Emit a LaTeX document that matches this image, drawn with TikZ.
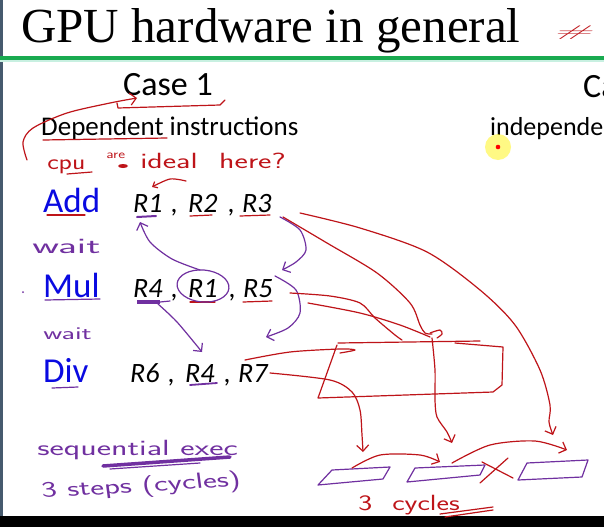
\documentclass[tikz,border=0pt]{standalone}
\usepackage{fontspec}
\setmainfont{Carlito}
\newfontfamily\titlefont{Liberation Serif}
\newcommand\handfont{\sffamily}
\usetikzlibrary{arrows.meta}

\definecolor{penred}{RGB}{190,20,25}
\definecolor{penpurple}{RGB}{112,48,160}
\definecolor{instrblue}{RGB}{10,10,225}
\definecolor{rulegreen}{RGB}{25,170,80}
\definecolor{rulemint}{RGB}{200,240,225}
\definecolor{frameslate}{RGB}{70,90,110}

\tikzset{
  redpen/.style={draw=penred, line width=1.2pt, line cap=round, line join=round},
  purplepen/.style={draw=penpurple, line width=1.2pt, line cap=round, line join=round},
  pentip/.style={-{Straight Barb[length=6pt,width=12pt]}},
  instr/.style={anchor=base west, inner sep=0pt, text=instrblue, font=\fontsize{35}{35}\selectfont},
  reg/.style={anchor=base west, inner sep=0pt, font=\fontsize{28}{28}\selectfont\itshape},
  heading/.style={anchor=base west, inner sep=0pt, font=\fontsize{34}{34}\selectfont},
  subheading/.style={anchor=base west, inner sep=0pt, font=\fontsize{27}{27}\selectfont},
  rednote/.style={anchor=base west, inner sep=0pt, text=penred, font=\handfont\fontsize{22}{22}\selectfont},
  purplenote/.style={anchor=base west, inner sep=0pt, text=penpurple, font=\handfont\fontsize{22}{22}\selectfont},
}

\begin{document}
\begin{tikzpicture}[x=1pt,y=-1pt]
\useasboundingbox (0,0) rectangle (604,527);
\fill[white] (0,0) rectangle (604,527);

% slide frame
\fill[frameslate] (0,0) rectangle (2.5,516);
\fill[black] (0,516) rectangle (604,527);
\fill[rulegreen] (0,56) rectangle (604,60);
\fill[rulemint] (0,60) rectangle (604,62);

% title
\node[anchor=base west, inner sep=0pt, font=\titlefont\fontsize{49}{49}\selectfont] (title) at (21,42) {GPU hardware in general};
\node[anchor=base west, inner sep=0pt, text=penred, font=\handfont\itshape\fontsize{18}{18}\selectfont, xscale=2.7, yscale=0.85] (hash) at (553,37) {\#};

% headings
\node[heading] (case1) at (123,95) {Case 1};
\node[subheading] (dep) at (41,135) {Dependent instructions};
\node[heading] (case2) at (583,97) {Ca};
\node[subheading, font=\fontsize{26}{26}\selectfont] (indep) at (490,135) {independe};

% pointer highlight
\fill[yellow!80, opacity=0.6] (498,147) circle (13pt);
\fill[red] (498,147) circle (2.3pt);

% instructions
\node[instr] (add) at (43,212) {Add};
\node[instr] (mul) at (43,297) {Mul};
\node[instr] (div) at (43,382) {Div};

\node[reg] (a1) at (133,212) {R1};
\node[reg] (ac1) at (171,212) {,};
\node[reg] (a2) at (188,212) {R2};
\node[reg] (ac2) at (228,212) {,};
\node[reg] (a3) at (242,212) {R3};

\node[reg] (m1) at (133,297) {R4};
\node[reg] (mc1) at (171,297) {,};
\node[reg] (m2) at (188,297) {R1};
\node[reg] (mc2) at (229,297) {,};
\node[reg] (m3) at (243,297) {R5};

\node[reg] (d1) at (130,382) {R6};
\node[reg] (dc1) at (168,382) {,};
\node[reg] (d2) at (185,382) {R4};
\node[reg] (dc2) at (224,382) {,};
\node[reg] (d3) at (238,382) {R7};

% handwritten notes
\node[rednote, xscale=1.25] (cpu) at (47,169) {cpu};
\node[rednote, font=\handfont\fontsize{12}{12}\selectfont, xscale=1.3] (are) at (106,158) {are};
\node[rednote, xscale=1.45] (ideal) at (140,168) {ideal \hspace{8pt}here?};
\node[purplenote, xscale=1.9] (wait1) at (32,253) {wait};
\node[purplenote, font=\handfont\fontsize{18}{18}\selectfont, xscale=1.65] (wait2) at (43,339) {wait};
\node[purplenote, xscale=1.55] (seq) at (37,455) {sequential exec};
\node[purplenote, xscale=1.5, rotate=5] (steps) at (42,498) {3 steps (cycles)};
\node[rednote, xscale=1.35] (cycles) at (358,510) {3 \hspace{8pt}cycles};

% red ink around the headings
\draw[redpen, pentip] plot[smooth] coordinates {(27,160) (23,142) (33,128) (67,113) (110,103) (137,98)};
\draw[redpen] (117,103) -- (118,108) -- (220,105) -- (225,100);
\draw[redpen] (43,140) -- (167,138);
\draw[redpen] (67,174) -- (92,172);
\fill[penred] (123,166) ellipse (5pt and 2pt);
\draw[redpen, -{Straight Barb[length=4pt,width=7pt]}] plot[smooth] coordinates {(186,181) (170,179) (152,187)};

% underlines
\draw[redpen] (47,215) -- (85,215);
\draw[purplepen, line width=2pt] (137,217) -- (156,216);
\draw[redpen] (190,216) -- (212,215);
\draw[redpen] (240,216) -- (270,215);
\draw[purplepen] (45,300) -- (100,299);
\draw[purplepen, line width=4pt, line cap=butt] (137,302) -- (160,302);
\draw[purplepen] (160,302) -- (170,301);
\draw[redpen] (190,302) -- (215,302);
\draw[redpen] (243,302) -- (272,301);
\draw[purplepen] (52,388) -- (78,387);
\draw[purplepen, line width=1.8pt] (190,385) -- (217,383);

% dependences between registers
\draw[purplepen, rotate around={-5:(203,286)}] (203,286) ellipse (26pt and 16pt);
\draw[purplepen, pentip] plot[smooth] coordinates {(200,270) (172,259) (150,242) (140,222)};
\draw[purplepen, pentip] plot[smooth] coordinates {(158,304) (177,322) (202,352)};
\draw[purplepen, pentip] plot[smooth] coordinates {(280,217) (300,230) (306,250) (296,262) (282,270)};
\draw[purplepen, pentip] plot[smooth] coordinates {(275,276) (296,290) (300,313) (288,328) (266,337)};

% operands flowing into the unit
\draw[redpen, pentip] plot[smooth] coordinates {(300,213) (360,228) (427,252) (480,290) (515,325) (540,370) (550,405) (549,422) (553,435)};
\draw[redpen] plot[smooth] coordinates {(283,217) (327,243) (377,273) (410,303) (420,325) (425,333) (432,334)};
\draw[redpen] plot[smooth] coordinates {(290,293) (330,296) (360,303) (375,318) (395,335) (402,340)};
\draw[redpen] plot[smooth] coordinates {(308,303) (360,313) (400,325) (430,337)};
\draw[redpen] plot[smooth] coordinates {(430,333) (440,330) (442,334) (437,338)};
\draw[redpen] plot[smooth] coordinates {(245,360) (290,352) (340,349) (355,350) (340,353)};

% the execution unit
\draw[redpen] (338,343) -- (480,341);
\draw[redpen] (337,345) -- (318,398) -- (493,392) -- (502,385) -- (503,347) -- (455,343);

% results leaving the unit
\draw[redpen, pentip] plot[smooth] coordinates {(270,373) (330,380) (352,392) (360,410) (362,435) (363,452)};
\draw[redpen, pentip] plot[smooth] coordinates {(432,338) (435,370) (435,400) (437,417) (447,432) (452,443)};

% pipeline steps
\coordinate (s1) at (352,468);
\coordinate (s2) at (452,463);
\draw[purplepen] (318,485) -- (332,470) -- (390,467) -- (383,479) -- cycle;
\draw[purplepen] (407,482) -- (415,468) -- (485,465) -- (480,475) -- cycle;
\draw[purplepen] (518,480) -- (527,463) -- (588,460) -- (582,477) -- cycle;
\draw[redpen, pentip] plot[smooth] coordinates {(s1) (380,455) (420,455) (440,462)};
\draw[redpen, pentip] plot[smooth] coordinates {(s2) (490,445) (535,441) (567,450)};
\draw[redpen] (482,462) -- (513,478);
\draw[redpen] (480,483) -- (508,458);
\draw[redpen] (440,514) -- (493,507);
\draw[redpen] (445,517) -- (493,510);
\draw[purplepen, line width=3.5pt] (103,466) -- (230,457);
\draw[purplepen] (110,469) -- (200,463);
\fill[penpurple] (23,292) circle (1pt);
\end{tikzpicture}
\end{document}
